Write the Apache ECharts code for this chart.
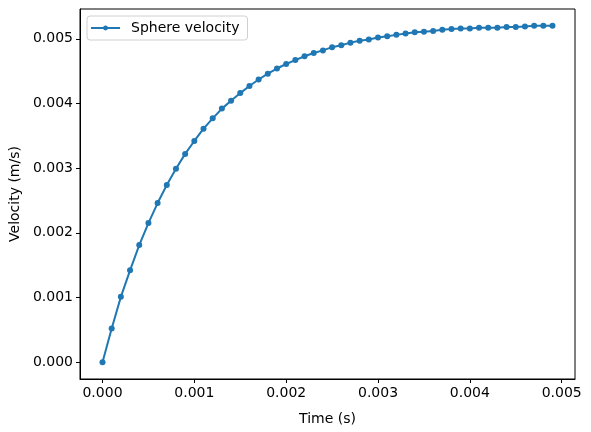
<!DOCTYPE html>
<html>
<head>
<meta charset="utf-8">
<script src="https://cdn.jsdelivr.net/npm/echarts@6/dist/echarts.min.js"></script>
<style>
  html, body { margin: 0; padding: 0; background: #fff; }
  #main { width: 591px; height: 432px; }
</style>
</head>
<body>
<div id="main"></div>
<script>
// time samples (s)
const times = [
  0.0000, 0.0001, 0.0002, 0.0003, 0.0004, 0.0005, 0.0006, 0.0007, 0.0008, 0.0009,
  0.0010, 0.0011, 0.0012, 0.0013, 0.0014, 0.0015, 0.0016, 0.0017, 0.0018, 0.0019,
  0.0020, 0.0021, 0.0022, 0.0023, 0.0024, 0.0025, 0.0026, 0.0027, 0.0028, 0.0029,
  0.0030, 0.0031, 0.0032, 0.0033, 0.0034, 0.0035, 0.0036, 0.0037, 0.0038, 0.0039,
  0.0040, 0.0041, 0.0042, 0.0043, 0.0044, 0.0045, 0.0046, 0.0047, 0.0048, 0.0049
]
// sphere velocity (m/s)
const velocity = [
  0.00000, 0.00052, 0.00101, 0.00142, 0.00181, 0.00215, 0.00246, 0.00274, 0.00299, 0.00322,
  0.00342, 0.00361, 0.00377, 0.00392, 0.00404, 0.00416, 0.00427, 0.00437, 0.00446, 0.00454,
  0.00461, 0.00467, 0.00473, 0.00478, 0.00482, 0.00487, 0.00490, 0.00494, 0.00497, 0.00499,
  0.00502, 0.00504, 0.00506, 0.00508, 0.00510, 0.00511, 0.00512, 0.00514, 0.00515, 0.00516,
  0.00516, 0.00517, 0.00517, 0.00517, 0.00518, 0.00518, 0.00519, 0.00520, 0.00520, 0.00520
]
const xTicks = [0, 0.001, 0.002, 0.003, 0.004, 0.005]
const yTicks = [0, 0.001, 0.002, 0.003, 0.004, 0.005]

const font = 'DejaVu Sans'
const chart = echarts.init(document.getElementById('main'))

const axisCommon = {
  type: 'value',
  nameLocation: 'middle',
  nameTextStyle: { fontFamily: font, fontSize: 14, color: '#000' },
  axisLine: { show: true, onZero: false, lineStyle: { color: '#000', width: 1 } },
  splitLine: { show: false }
}

chart.setOption({
  animation: false,
  grid: {
    left: 79, right: 16, top: 9, bottom: 53,
    show: true, borderColor: '#000', borderWidth: 1, backgroundColor: 'transparent'
  },
  legend: {
    left: 87, top: 16,
    padding: [5, 8, 5, 3],
    backgroundColor: '#fff',
    borderColor: '#d0d0d0', borderWidth: 1, borderRadius: 3,
    itemWidth: 29, itemHeight: 6,
    textStyle: { fontFamily: font, fontSize: 14, color: '#000', padding: [0, 0, 0, 6] },
    data: ['Sphere velocity']
  },
  xAxis: Object.assign({}, axisCommon, {
    name: 'Time (s)', nameGap: 33,
    min: -0.000245, max: 0.005145,
    axisTick: { show: true, inside: false, length: 4, customValues: xTicks, lineStyle: { color: '#000' } },
    axisLabel: {
      customValues: xTicks, margin: 7,
      fontFamily: font, fontSize: 14, color: '#000',
      formatter: v => v.toFixed(3)
    }
  }),
  yAxis: Object.assign({}, axisCommon, {
    name: 'Velocity (m/s)', nameGap: 58,
    min: -0.00026, max: 0.00546,
    axisTick: { show: true, inside: false, length: 4, customValues: yTicks, lineStyle: { color: '#000' } },
    axisLabel: {
      customValues: yTicks, margin: 7,
      fontFamily: font, fontSize: 14, color: '#000',
      formatter: v => v.toFixed(3)
    }
  }),
  series: [{
    name: 'Sphere velocity',
    type: 'line',
    data: times.map((t, i) => [t, velocity[i]]),
    symbol: 'circle', symbolSize: 6,
    showSymbol: true,
    itemStyle: { color: '#1f77b4' },
    lineStyle: { color: '#1f77b4', width: 2 },
    emphasis: { disabled: true }
  }]
})
</script>
</body>
</html>
